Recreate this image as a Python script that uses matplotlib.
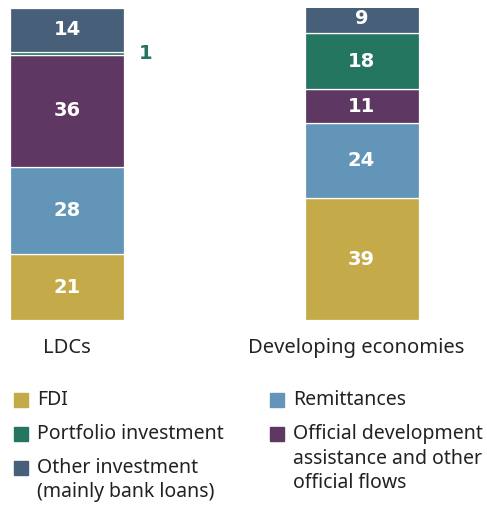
import matplotlib

matplotlib.use("Agg")
import matplotlib.pyplot as plt
from matplotlib.patches import Rectangle

W, H = 487, 508

categories = ["LDCs", "Developing economies"]
series = ["FDI", "Remittances", "Official development\nassistance and other\nofficial flows",
          "Portfolio investment", "Other investment\n(mainly bank loans)"]
colors = ["#C4AA48", "#6395B8", "#5E3862", "#247661", "#475F78"]
ldc = [21, 28, 36, 1, 14]
developing = [39, 24, 11, 18, 9]

# legend layout: (column x px, row y px) per series
legend_pos = [(14, 400), (270, 400), (270, 434), (14, 434), (14, 468)]


def fx(px):
    return px / W


def fy(py):
    return 1 - py / H


fig = plt.figure(figsize=(W / 100, H / 100), dpi=100)
ax = fig.add_axes([0, fy(320), 1, 312 / H])

scale = 294.5
ax.set_xlim(-67 / scale, (W - 67) / scale)
ax.set_ylim(0, 100)
ax.set_axis_off()

width = 114 / scale
values = [ldc, developing]
for i, vals in enumerate(values):
    bottom = 0
    for j, v in enumerate(vals):
        ax.bar(i, v, width=width, bottom=bottom, color=colors[j],
               edgecolor="white", linewidth=0.9)
        mid = bottom + v / 2
        if v >= 3:
            ax.text(i, mid, str(v), ha="center", va="center", color="white",
                    fontsize=14, fontweight="bold", family="DejaVu Sans")
        else:
            ax.text(i + width / 2 + 0.05, mid, str(v), ha="left", va="center",
                    color=colors[j], fontsize=14, fontweight="bold",
                    family="DejaVu Sans")
        bottom += v

cat_x = [67, 356]
for name, x in zip(categories, cat_x):
    fig.text(fx(x), fy(348), name, ha="center", va="center", fontsize=14.5,
             family="Noto Sans", color="#222222")

for name, c, (x, y) in zip(series, colors, legend_pos):
    fig.patches.append(Rectangle((fx(x), fy(y + 7)), 14 / W, 14 / H,
                                 transform=fig.transFigure, color=c))
    fig.text(fx(x + 23), fy(y - 10), name, ha="left", va="top", fontsize=14,
             family="Noto Sans", color="#222222", linespacing=1.3)

fig.savefig("out.png", dpi=100)
